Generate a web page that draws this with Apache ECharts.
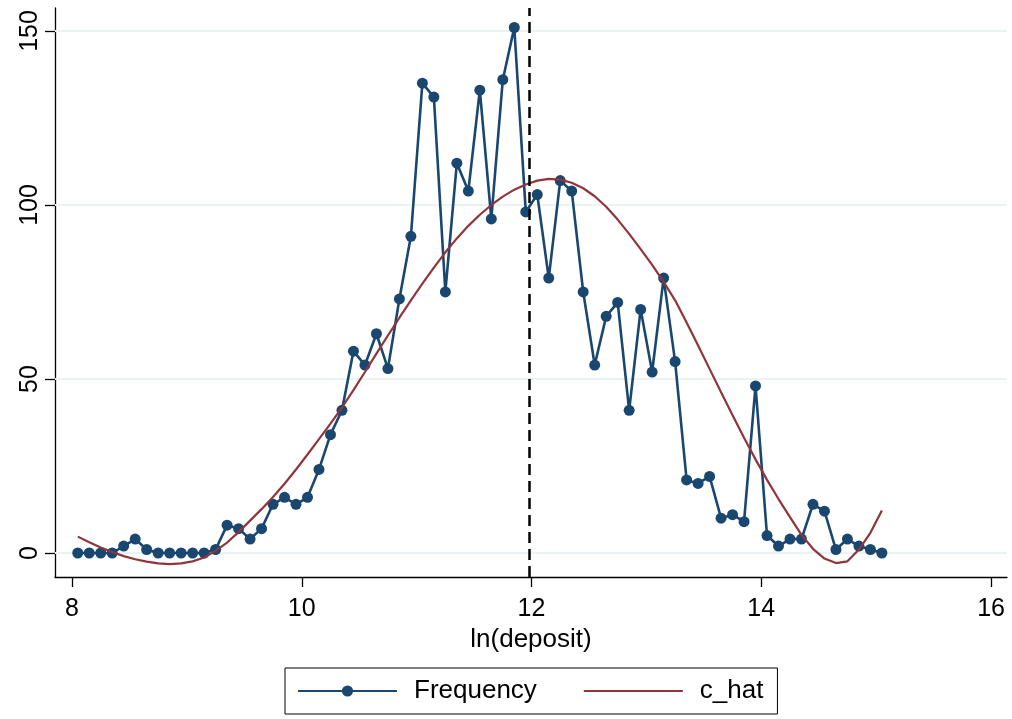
<!DOCTYPE html>
<html>
<head>
<meta charset="utf-8">
<script src="https://cdn.jsdelivr.net/npm/echarts@6/dist/echarts.min.js"></script>
<style>
    html, body { margin: 0; padding: 0; background: #fff; }
    #chart { width: 1012px; height: 719px; }
</style>
</head>
<body>
<div id="chart"></div>
<script>
    // bin midpoints of ln(deposit)
    var binMid = [8.05, 8.15, 8.25, 8.35, 8.45, 8.55, 8.65, 8.75, 8.85, 8.95,
        9.05, 9.15, 9.25, 9.35, 9.45, 9.55, 9.65, 9.75, 9.85, 9.95,
        10.05, 10.15, 10.25, 10.35, 10.45, 10.55, 10.65, 10.75, 10.85, 10.95,
        11.05, 11.15, 11.25, 11.35, 11.45, 11.55, 11.65, 11.75, 11.85, 11.95,
        12.05, 12.15, 12.25, 12.35, 12.45, 12.55, 12.65, 12.75, 12.85, 12.95,
        13.05, 13.15, 13.25, 13.35, 13.45, 13.55, 13.65, 13.75, 13.85, 13.95,
        14.05, 14.15, 14.25, 14.35, 14.45, 14.55, 14.65, 14.75, 14.85, 14.95,
        15.05];
    var frequency = [0, 0, 0, 0, 2, 4, 1, 0, 0, 0,
        0, 0, 1, 8, 7, 4, 7, 14, 16, 14,
        16, 24, 34, 41, 58, 54, 63, 53, 73, 91,
        135, 131, 75, 112, 104, 133, 96, 136, 151, 98,
        103, 79, 107, 104, 75, 54, 68, 72, 41, 70,
        52, 79, 55, 21, 20, 22, 10, 11, 9, 48,
        5, 2, 4, 4, 14, 12, 1, 4, 2, 1,
        0];
    var cHat = [4.7, 3.1, 1.6, 0.3, -0.9, -1.8, -2.5, -3.0, -3.2, -3.0,
        -2.4, -1.3, 0.6, 3.0, 6.0, 9.3, 12.6, 16.1, 19.9, 24.0,
        28.3, 32.7, 37.2, 41.8, 46.8, 52.0, 57.3, 62.5, 67.6, 72.6,
        77.4, 82.0, 86.4, 90.4, 94.0, 97.2, 100.0, 102.4, 104.4, 105.9,
        107.0, 107.5, 107.3, 106.4, 104.8, 102.5, 99.5, 95.8, 91.7, 87.3,
        82.8, 77.9, 72.6, 66.2, 59.6, 52.9, 46.2, 39.6, 33.1, 26.9,
        21.0, 15.5, 10.3, 5.2, 1.2, -1.6, -2.9, -2.4, 1.0, 5.8,
        12.2];
    var xTicks = [8, 10, 12, 14, 16];
    var yTicks = [0, 50, 100, 150];
    var cutoff = 11.98;

    var font = '"Liberation Sans", Arial, Helvetica, sans-serif';
    var navy = '#1a476f';
    var maroon = '#90353b';

    var chart = echarts.init(document.getElementById('chart'));

    var option = {
        backgroundColor: '#fff',
        animation: false,
        textStyle: { fontFamily: font },
        grid: {
            left: 55,
            right: 5,
            top: 8,
            bottom: 142
        },
        legend: {
            data: [
                { name: 'Frequency' },
                { name: 'c_hat', itemStyle: { opacity: 0 } }
            ],
            left: 285,
            top: 668,
            orient: 'horizontal',
            borderColor: '#000',
            borderWidth: 1,
            borderRadius: 0,
            padding: [10, 14, 10, 12],
            itemWidth: 99,
            itemHeight: 14,
            itemGap: 46,
            textStyle: {
                fontFamily: font,
                fontSize: 26,
                color: '#000',
                padding: [0, 0, 0, 12]
            }
        },
        xAxis: {
            type: 'value',
            min: 7.852,
            max: 16.139,
            name: 'ln(deposit)',
            nameLocation: 'middle',
            nameGap: 50,
            nameTextStyle: { fontFamily: font, fontSize: 26, color: '#000' },
            axisLine: { show: true, onZero: false, lineStyle: { color: '#000', width: 1.3 } },
            axisTick: { show: true, length: 10, customValues: xTicks, lineStyle: { color: '#000', width: 1.3 } },
            axisLabel: { customValues: xTicks, fontFamily: font, fontSize: 25, color: '#000', margin: 20 },
            splitLine: { show: false }
        },
        yAxis: {
            type: 'value',
            min: -6.9,
            max: 156.6,
            axisLine: { show: true, onZero: false, lineStyle: { color: '#000', width: 1.3 } },
            axisTick: { show: true, length: 10, customValues: yTicks, lineStyle: { color: '#000', width: 1.3 } },
            axisLabel: { customValues: yTicks, rotate: 90, fontFamily: font, fontSize: 25, color: '#000', margin: 12 },
            splitLine: { show: false }
        },
        series: [
            {
                name: 'grid',
                type: 'line',
                data: [],
                silent: true,
                markLine: {
                    silent: true,
                    z: 1,
                    symbol: 'none',
                    label: { show: false },
                    lineStyle: { color: '#eaf2f3', width: 2, type: 'solid' },
                    data: yTicks.map(function (v) { return { yAxis: v }; })
                }
            },
            {
                name: 'Frequency',
                type: 'line',
                z: 3,
                data: binMid.map(function (x, i) { return [x, frequency[i]]; }),
                symbol: 'circle',
                symbolSize: 11,
                showSymbol: true,
                color: navy,
                itemStyle: { color: navy },
                lineStyle: { color: navy, width: 2.6 }
            },
            {
                name: 'c_hat',
                type: 'line',
                z: 4,
                data: binMid.map(function (x, i) { return [x, cHat[i]]; }),
                symbol: 'none',
                showSymbol: false,
                color: maroon,
                itemStyle: { color: maroon },
                lineStyle: { color: maroon, width: 2.2 },
                markLine: {
                    silent: true,
                    symbol: 'none',
                    label: { show: false },
                    lineStyle: { color: '#000', width: 2.5, type: [11, 6] },
                    data: [{ xAxis: cutoff }]
                }
            }
        ]
    };

    chart.setOption(option);
</script>
</body>
</html>
